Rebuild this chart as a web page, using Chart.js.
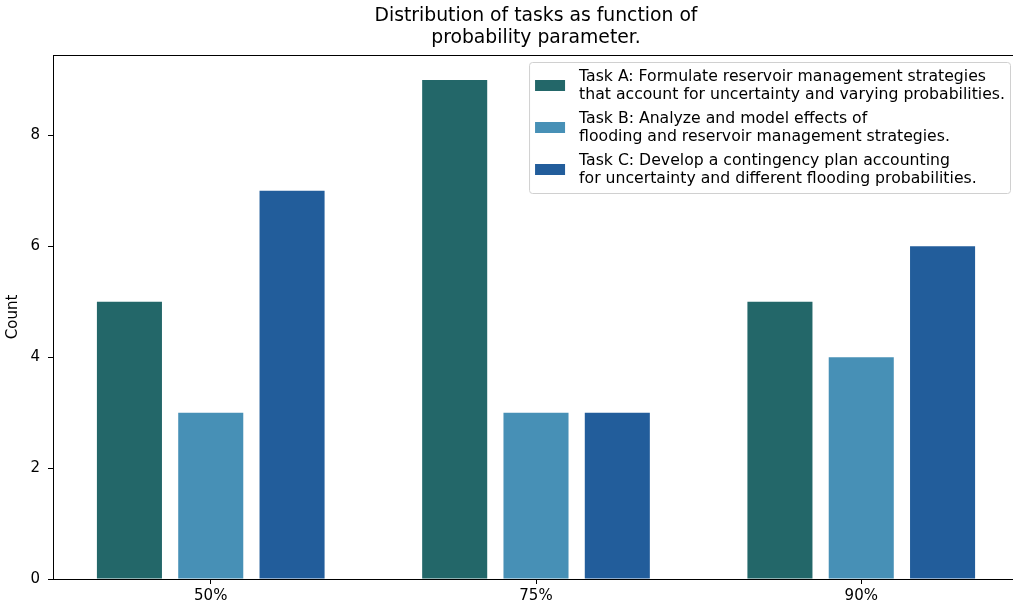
<!DOCTYPE html>
<html><head><meta charset="utf-8">
<script src="https://cdn.jsdelivr.net/npm/chart.js@4"></script>
<style>
html,body{margin:0;padding:0;overflow:hidden;background:#fff}
#wrap{width:1030px;height:611px;position:relative}
</style></head>
<body><div id="wrap"><canvas id="c" width="1030" height="611"></canvas></div>
<script>
const categories = ['50%', '75%', '90%'];
const seriesNames = [
  ['Task A: Formulate reservoir management strategies', 'that account for uncertainty and varying probabilities.'],
  ['Task B: Analyze and model effects of', 'flooding and reservoir management strategies.'],
  ['Task C: Develop a contingency plan accounting', 'for uncertainty and different flooding probabilities.']
];
const taskA = [5, 9, 5];
const taskB = [3, 3, 4];
const taskC = [7, 3, 6];
const yTicks = [0, 2, 4, 6, 8];
const titleLines = ['Distribution of tasks as function of', 'probability parameter.'];
const yLabel = 'Count';
const colors = ['#236769', '#4790b6', '#225d9b'];

const FONT = "'DejaVu Sans', sans-serif";
Chart.defaults.font.family = FONT;
Chart.defaults.font.size = 15;
Chart.defaults.color = '#000';

const seriesValues = [taskA, taskB, taskC];
const datasets = seriesValues.map((vals, i) => ({
  label: seriesNames[i],
  data: vals.map((v, j) => ({x: j, y: v})),
  backgroundColor: colors[i],
  borderWidth: 0,
  categoryPercentage: 0.75,
  barPercentage: 0.8
}));

const framePlugin = {
  id: 'frame',
  afterDatasetsDraw(chart) {
    const a = chart.chartArea, ctx = chart.ctx;
    ctx.save();
    ctx.strokeStyle = '#000';
    ctx.lineWidth = 1;
    ctx.strokeRect(Math.round(a.left) + 0.5, Math.round(a.top) + 0.5, a.right - a.left, a.bottom - a.top);
    ctx.restore();
  },
  afterDraw(chart) {
    const a = chart.chartArea, ctx = chart.ctx;
    ctx.save();
    // title
    ctx.fillStyle = '#000';
    ctx.font = '18.8px ' + FONT;
    ctx.textAlign = 'center';
    ctx.textBaseline = 'alphabetic';
    const cx = (a.left + a.right) / 2;
    titleLines.forEach((t, i) => ctx.fillText(t, cx, 20.5 + i * 22));
    // legend
    ctx.font = '15.7px ' + FONT;
    let maxW = 0;
    chart.data.datasets.forEach(d => d.label.forEach(l => { maxW = Math.max(maxW, ctx.measureText(l).width); }));
    const padL = 6, sw = 30, gap = 14, padR = 5;
    const boxW = padL + sw + gap + maxW + padR;
    const boxH = 131;
    const bx = a.right - 9 - boxW, by = a.top + 7;
    ctx.beginPath();
    ctx.roundRect(bx + 0.5, by + 0.5, boxW, boxH, 3);
    ctx.fillStyle = 'rgba(255,255,255,0.85)';
    ctx.fill();
    ctx.strokeStyle = '#d0d0d0';
    ctx.lineWidth = 1;
    ctx.stroke();
    ctx.textAlign = 'left';
    chart.data.datasets.forEach((d, i) => {
      const base = by + 19 + i * 42;
      ctx.fillStyle = d.backgroundColor;
      ctx.fillRect(bx + padL, base - 1, sw, 11);
      ctx.fillStyle = '#000';
      d.label.forEach((l, k) => ctx.fillText(l, bx + padL + sw + gap, base + k * 18));
    });
    ctx.restore();
  }
};

new Chart(document.getElementById('c'), {
  type: 'bar',
  data: {datasets},
  plugins: [framePlugin],
  options: {
    responsive: false,
    animation: false,
    devicePixelRatio: 1,
    layout: {padding: {top: 55, right: 11, left: 0, bottom: 0}},
    plugins: {legend: {display: false}, title: {display: false}, tooltip: {enabled: false}},
    scales: {
      x: {
        type: 'linear',
        offset: false,
        min: -0.485,
        max: categories.length - 1 + 0.485,
        afterBuildTicks: s => { s.ticks = categories.map((_, i) => ({value: i})); },
        afterFit: s => { s.height = 32; },
        ticks: {callback: v => categories[v], padding: 3, maxRotation: 0, autoSkip: false},
        grid: {offset: false, drawOnChartArea: false, drawTicks: true, tickLength: 5, color: '#000'},
        border: {display: true, color: '#000', width: 1}
      },
      y: {
        min: 0,
        max: 9.45,
        afterBuildTicks: s => { s.ticks = yTicks.map(v => ({value: v})); },
        afterFit: s => { s.width = 53; },
        ticks: {padding: 8},
        grid: {drawOnChartArea: false, drawTicks: true, tickLength: 5, color: '#000'},
        border: {display: true, color: '#000', width: 1},
        title: {display: true, text: yLabel, padding: {top: 4, bottom: 0}}
      }
    }
  }
});
</script>
</body></html>
